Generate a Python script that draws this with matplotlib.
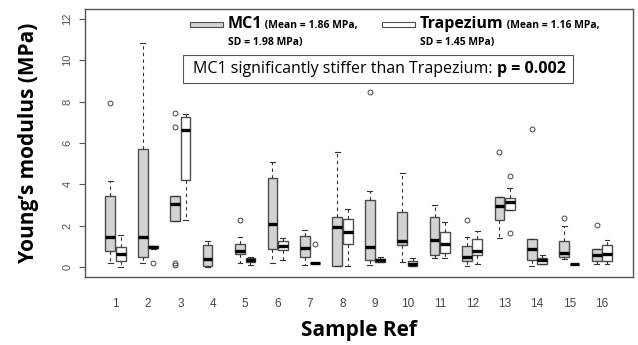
import matplotlib
matplotlib.use("Agg")
import matplotlib.pyplot as plt
from matplotlib.patches import Rectangle

samples = list(range(1, 17))

# MC1 box stats
mc1_lo = [0.19, 0.19, 2.21, 0.02, 0.22, 0.22, 0.11, 0.05, 0.08, 0.24, 0.44, 0.06, 1.39, 0.06, 0.39, 0.16]
mc1_q1 = [0.78, 0.51, 2.21, 0.03, 0.63, 0.87, 0.51, 0.06, 0.35, 1.07, 0.56, 0.29, 2.30, 0.35, 0.51, 0.27]
mc1_med = [1.46, 1.46, 3.04, 0.39, 0.76, 2.10, 0.92, 1.92, 0.95, 1.28, 1.29, 0.51, 2.93, 0.87, 0.68, 0.58]
mc1_q3 = [3.46, 5.73, 3.46, 1.08, 1.13, 4.29, 1.49, 2.41, 3.25, 2.65, 2.43, 1.03, 3.40, 1.36, 1.24, 0.89]
mc1_hi = [4.16, 10.84, 3.46, 1.28, 1.44, 5.08, 1.81, 5.56, 3.70, 4.54, 3.02, 1.46, 3.40, 1.36, 1.97, 0.89]
mc1_out = [[7.93], [], [7.47, 6.78, 0.19, 0.10], [], [2.28], [], [], [], [8.45], [], [], [2.30], [5.58], [6.70], [2.39], [2.02]]

# Trapezium box stats (sample 4 has none)
tr_lo = [0.01, 0.87, 2.30, None, 0.08, 0.35, 0.21, 0.03, 0.26, 0.03, 0.44, 0.16, 2.78, 0.16, 0.13, 0.16]
tr_q1 = [0.27, 0.90, 4.20, None, 0.24, 0.84, 0.21, 1.12, 0.26, 0.03, 0.66, 0.58, 2.78, 0.16, 0.13, 0.31]
tr_med = [0.63, 0.95, 6.65, None, 0.34, 1.03, 0.21, 1.68, 0.33, 0.16, 1.13, 0.76, 3.15, 0.32, 0.13, 0.63]
tr_q3 = [0.95, 1.00, 7.26, None, 0.44, 1.28, 0.21, 2.34, 0.40, 0.31, 1.70, 1.36, 3.33, 0.45, 0.13, 1.08]
tr_hi = [1.55, 1.03, 7.39, None, 0.49, 1.41, 0.21, 2.82, 0.49, 0.42, 2.18, 1.75, 3.80, 0.56, 0.13, 1.29]
tr_out = [[], [0.19], [], [], [], [], [1.12], [], [], [], [], [], [4.40, 1.63], [], [], []]


def make_stats(lo, q1, med, q3, hi, out):
    st, pos = [], []
    for i in range(len(lo)):
        if med[i] is None:
            continue
        st.append(dict(whislo=lo[i], q1=q1[i], med=med[i], q3=q3[i], whishi=hi[i], fliers=out[i]))
        pos.append(samples[i])
    return st, pos


fig = plt.figure(figsize=(6.38, 3.45), dpi=100)
ax = fig.add_axes([85 / 638, 68 / 345, 548 / 638, 268 / 345])

common = dict(widths=0.3, patch_artist=True, manage_ticks=False, capwidths=0.15,
              whiskerprops=dict(color="#333333", lw=0.8, linestyle=(0, (3, 3))),
              capprops=dict(color="#333333", lw=0.8),
              medianprops=dict(color="black", lw=2.4, solid_capstyle="butt"),
              flierprops=dict(marker="o", markersize=3.5, markerfacecolor="none",
                              markeredgecolor="#444444", markeredgewidth=0.7))

st, pos = make_stats(mc1_lo, mc1_q1, mc1_med, mc1_q3, mc1_hi, mc1_out)
ax.bxp(st, positions=[p - 0.16 for p in pos],
       boxprops=dict(facecolor="#d3d3d3", edgecolor="#4d4d4d", lw=1), **common)
st, pos = make_stats(tr_lo, tr_q1, tr_med, tr_q3, tr_hi, tr_out)
ax.bxp(st, positions=[p + 0.16 for p in pos],
       boxprops=dict(facecolor="white", edgecolor="#4d4d4d", lw=1), **common)

ax.set_xlim(0.06, 16.96)
ax.set_ylim(-0.48, 12.48)
ax.set_xticks(samples)
ax.set_xticklabels([str(s) for s in samples], fontsize=8.5, color="#444444", family="Liberation Sans")
ax.tick_params(axis="x", length=0, pad=15)
ax.set_yticks(range(0, 13, 2))
ax.set_yticklabels([str(v) for v in range(0, 13, 2)], rotation=90, va="center",
                   fontsize=8, color="#555555", family="Liberation Sans")
ax.tick_params(axis="y", length=4, color="#555555", pad=5)
for s in ax.spines.values():
    s.set_color("#555555")
    s.set_linewidth(1)

ax.set_xlabel("Sample Ref", fontsize=15, fontweight="bold", family="Open Sans", labelpad=7)
ax.set_ylabel("Young\u2019s modulus (MPa)", fontsize=15, fontweight="bold", family="Open Sans", labelpad=17)


def axc(px, py):
    return ((px - 85) / 548, (277 - py) / 268)


# legend
for x0, fc, name, mean, sd in [(190, "#d3d3d3", "MC1", "(Mean = 1.86 MPa,", "SD = 1.98 MPa)"),
                                (382, "white", "Trapezium", "(Mean = 1.16 MPa,", "SD = 1.45 MPa)")]:
    x, y = axc(x0, 26.5)
    ax.add_patch(Rectangle((x, y), 33 / 548, 5 / 268, transform=ax.transAxes,
                           facecolor=fc, edgecolor="#4d4d4d", lw=0.8))
    tx, ty = axc(x0 + 38, 24)
    t = ax.text(tx, ty, name, transform=ax.transAxes, fontsize=11.5, fontweight="bold",
                family="Open Sans", va="center", ha="left")
    ax.annotate(" " + mean, xy=(1, 0.22), xycoords=t, va="baseline", ha="left",
                fontsize=7.5, fontweight="bold", family="Open Sans")
    sx, sy = axc(x0 + 38, 43)
    ax.text(sx, sy, sd, transform=ax.transAxes, fontsize=7.5, fontweight="bold",
            family="Open Sans", va="center", ha="left")

# significance box
bx, by = axc(183, 83)
ax.add_patch(Rectangle((bx, by), 390 / 548, 28 / 268, transform=ax.transAxes,
                       facecolor="white", edgecolor="#555555", lw=0.8))
tx, ty = axc(193, 69)
t1 = ax.text(tx, ty, "MC1 significantly stiffer than Trapezium: ", transform=ax.transAxes,
             fontsize=11.5, family="Open Sans", va="center", ha="left")
ax.annotate("p = 0.002", xy=(1, 0.5), xycoords=t1, va="center", ha="left",
            fontsize=11.5, fontweight="bold", family="Open Sans")

fig.savefig("out.png", dpi=100)
